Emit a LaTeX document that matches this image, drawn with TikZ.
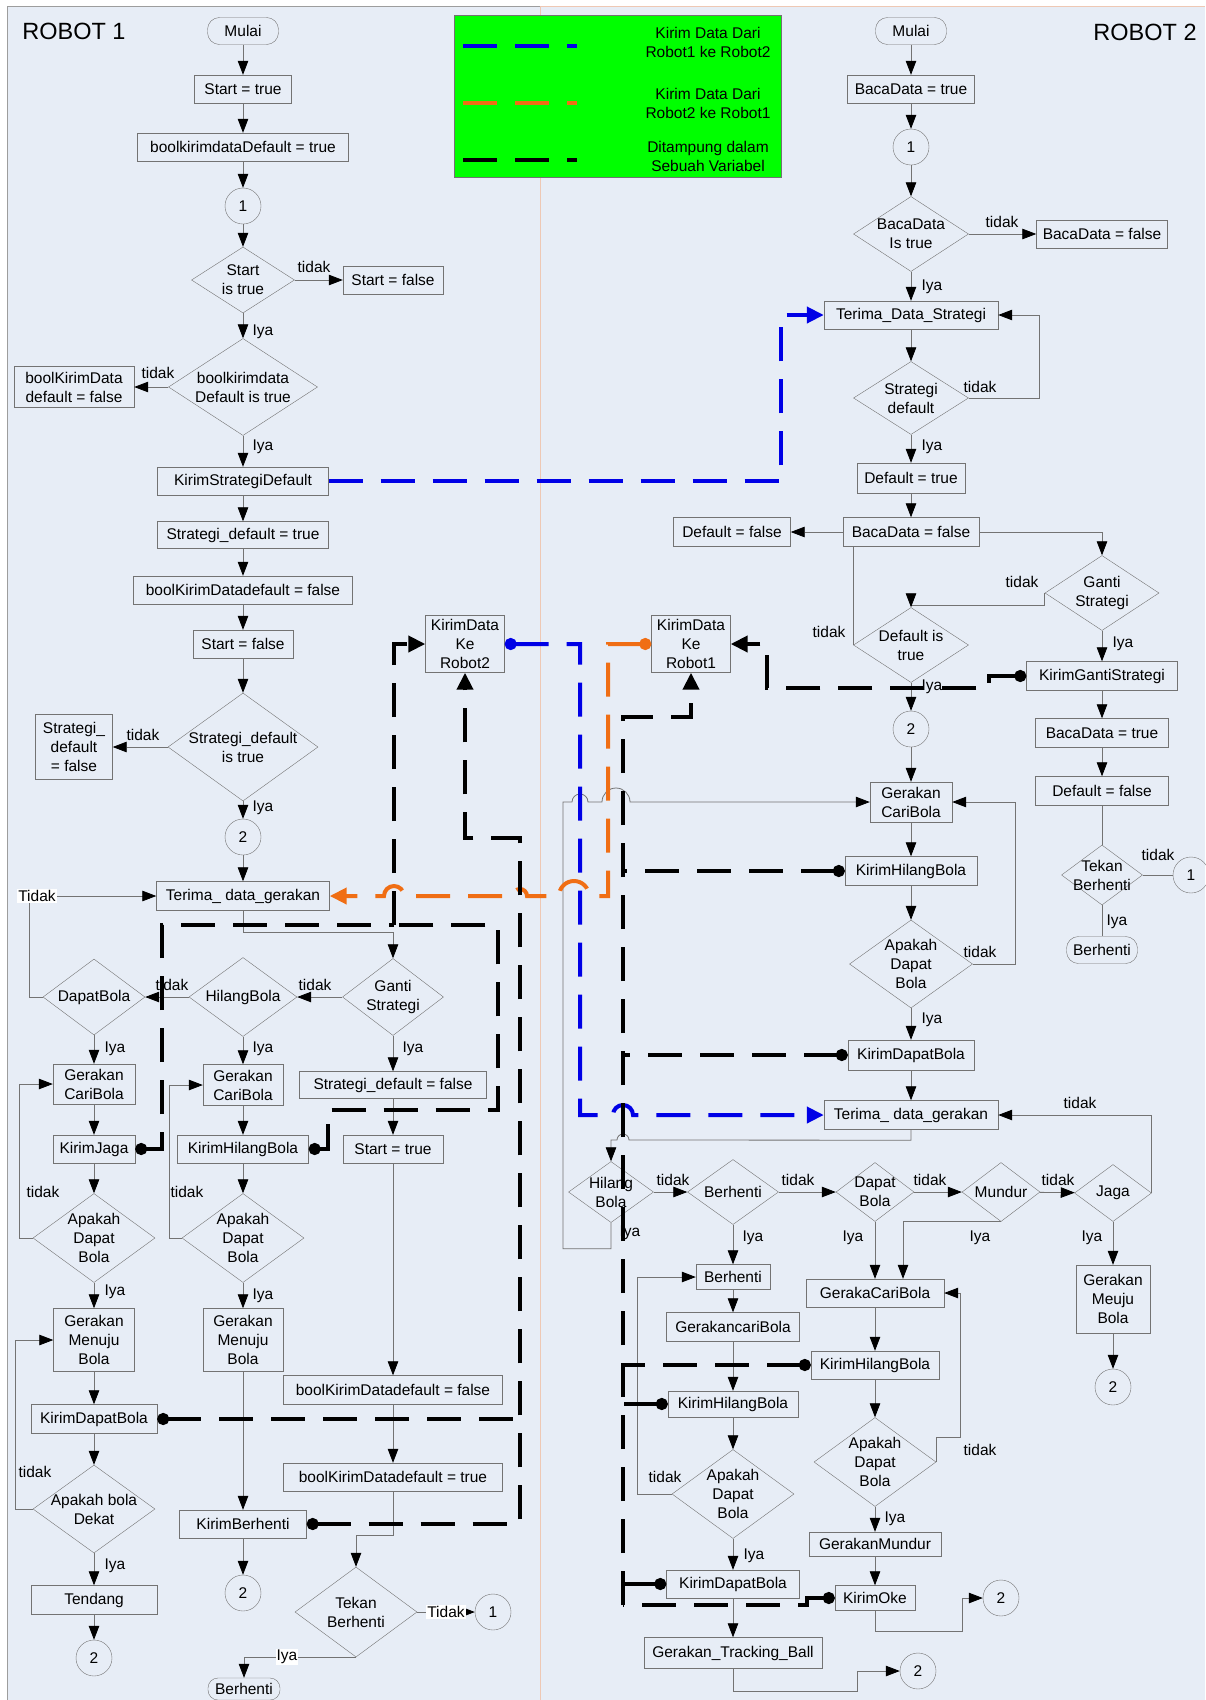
\documentclass[tikz,border=0pt]{standalone}
\usepackage{fontspec}
\setmainfont{Liberation Sans}
\usepackage{tikz}
\usetikzlibrary{arrows.meta,shapes.geometric}
\definecolor{bgblue}{RGB}{231,237,246}
\definecolor{lgray}{RGB}{115,115,115}
\definecolor{peach}{RGB}{238,200,180}
\definecolor{kblue}{RGB}{0,0,230}
\definecolor{korange}{RGB}{240,110,20}
\definecolor{kgreen}{RGB}{0,255,0}

\begin{document}
\begin{tikzpicture}[x=1pt,y=-1pt,
every node/.style={font=\fontsize{15.5}{19}\selectfont},
box/.style={draw=lgray,rectangle,inner sep=0pt,minimum height=28pt,align=center},
term/.style={draw=lgray,rectangle,rounded corners=12pt,inner sep=0pt,minimum width=71pt,minimum height=27pt},
dia/.style={draw=lgray,diamond,inner sep=0pt},
dtxt/.style={align=center},
con/.style={draw=lgray,circle,inner sep=0pt,minimum size=36pt},
cline/.style={lgray,line width=0.8pt},
flow/.style={cline,-{Triangle[length=14pt,width=10.5pt,color=black]}},
wlbl/.style={fill=white,inner sep=1pt},
kdash/.style={line width=4pt,dash pattern=on 34pt off 18pt},
src/.style={{Circle[length=12pt]}-},
dst/.style={-{Triangle[length=17pt,width=16pt]}},
srcdst/.style={{Circle[length=12pt]}-{Triangle[length=17pt,width=16pt]}}]
\useasboundingbox (0,0) rectangle (1205,1700);
\fill[white] (0,0) rectangle (1205,1700);
\fill[bgblue] (7,6) rectangle (1205,1700);
\draw[lgray!70,line width=0.8pt] (7,1700) -- (7,6) -- (540,6);
\draw[peach,line width=0.8pt] (540,1700) -- (540,6) -- (1205,6);

\node[font=\fontsize{23.5}{26}\selectfont] (titleA) at (74,31) {ROBOT 1};
\node[font=\fontsize{23.5}{26}\selectfont] (titleB) at (1145,32) {ROBOT 2};

\node[draw=lgray,fill=kgreen,minimum width=327pt,minimum height=162pt,inner sep=0pt] (legend) at (617.5,96) {};
\draw[kdash,kblue] (463,46) -- (577,46);
\draw[kdash,korange] (463,103) -- (577,103);
\draw[kdash,black] (463,160) -- (577,160);
\node[align=center] (legA) at (708,42) {Kirim Data Dari\\Robot1 ke Robot2};
\node[align=center] (legB) at (708,103) {Kirim Data Dari\\Robot2 ke Robot1};
\node[align=center] (legC) at (708,156) {Ditampung dalam\\Sebuah Variabel};

\node[term] (aMulai) at (243,31) {Mulai};
\node[box,minimum width=97pt] (aStart) at (243,89) {Start = true};
\node[box,minimum width=211pt] (aBoolT) at (243,147) {boolkirimdataDefault = true};
\node[con] (aC1) at (243,206) {1};
\node[dia,minimum width=103pt,minimum height=66pt,label={[dtxt]center:Start\\is true}] (aDStart) at (243,280) {};
\node[box,minimum width=100pt] (aStartF) at (393,280) {Start = false};
\node[dia,minimum width=149pt,minimum height=97pt,label={[dtxt]center:boolkirimdata\\Default is true}] (aDBool) at (243,387) {};
\node[box,minimum width=120pt,minimum height=41pt] (aBoolF) at (74,387) {boolKirimData\\default = false};
\node[box,minimum width=171pt] (aKirimSD) at (243,481) {KirimStrategiDefault};
\node[box,minimum width=171pt,minimum height=27pt] (aStratT) at (243,535) {Strategi\_default = true};
\node[box,minimum width=219pt] (aBoolDF) at (243,590) {boolKirimDatadefault = false};
\node[box,minimum width=100pt] (aStartF2) at (243,644) {Start = false};
\node[dia,minimum width=150pt,minimum height=108pt,label={[dtxt]center:Strategi\_default\\is true}] (aDStrat) at (243,747) {};
\node[box,minimum width=77pt,minimum height=65pt] (aStratF) at (74,747) {Strategi\_\\default\\= false};
\node[con] (aC2) at (243,837) {2};
\node[box,minimum width=173pt,minimum height=29pt] (aTerima) at (243,896) {Terima\_ data\_gerakan};
\node[dia,minimum width=101pt,minimum height=77pt,label={[dtxt]center:Ganti\\Strategi}] (aDGanti) at (393,997) {};
\node[dia,minimum width=108pt,minimum height=79pt,label={[dtxt]center:HilangBola}] (aDHilang) at (243,997) {};
\node[dia,minimum width=102pt,minimum height=76pt,label={[dtxt]center:DapatBola}] (aDDapat) at (94,997) {};
\node[box,minimum width=82pt,minimum height=40pt] (aCari1) at (94,1084) {Gerakan\\CariBola};
\node[box,minimum width=80pt,minimum height=41pt] (aCari2) at (243,1085) {Gerakan\\CariBola};
\node[box,minimum width=187pt,minimum height=27pt] (aStratF2) at (393,1085) {Strategi\_default = false};
\node[box,minimum width=82pt] (aJaga) at (94,1149) {KirimJaga};
\node[box,minimum width=131pt] (aHilang) at (243,1149) {KirimHilangBola};
\node[box,minimum width=100pt] (aStartT2) at (393,1149) {Start = true};
\node[dia,minimum width=122pt,minimum height=89pt,label={[dtxt]center:Apakah\\Dapat\\Bola}] (aDApakah1) at (94,1238) {};
\node[dia,minimum width=122pt,minimum height=89pt,label={[dtxt]center:Apakah\\Dapat\\Bola}] (aDApakah2) at (243,1238) {};
\node[box,minimum width=81pt,minimum height=63pt] (aMenuju1) at (94,1340) {Gerakan\\Menuju\\Bola};
\node[box,minimum width=80pt,minimum height=63pt] (aMenuju2) at (243,1340) {Gerakan\\Menuju\\Bola};
\node[box,minimum width=126pt,minimum height=29pt] (aDapat) at (94,1419) {KirimDapatBola};
\node[box,minimum width=219pt,minimum height=29pt] (aBoolDF2) at (393,1390) {boolKirimDatadefault = false};
\node[box,minimum width=219pt] (aBoolDT2) at (393,1477) {boolKirimDatadefault = true};
\node[dia,minimum width=122pt,minimum height=88pt,label={[dtxt]center:Apakah bola\\Dekat}] (aDDekat) at (94,1509) {};
\node[box,minimum width=127pt] (aBerhenti) at (243,1524) {KirimBerhenti};
\node[box,minimum width=126pt,minimum height=29pt] (aTendang) at (94,1600) {Tendang};
\node[con] (aC3) at (94,1658) {2};
\node[con] (aC4) at (243,1593) {2};
\node[dia,minimum width=122pt,minimum height=90pt,label={[dtxt]center:Tekan\\Berhenti}] (aDTekan) at (356,1612) {};
\node[term,minimum width=72pt,minimum height=22pt,rounded corners=10pt] (aStop) at (244,1689) {Berhenti};
\node[con] (aC5) at (493,1612) {1};
\node[box,minimum width=79pt,minimum height=57pt] (aKirimR2) at (465,644) {KirimData\\Ke\\Robot2};

\node[term] (bMulai) at (911,31) {Mulai};
\node[box,minimum width=127pt] (bBaca) at (911,89) {BacaData = true};
\node[con] (bC1) at (911,147) {1};
\node[dia,minimum width=115pt,minimum height=75pt,label={[dtxt]center:BacaData\\Is true}] (bDBaca) at (911,234) {};
\node[box,minimum width=131pt] (bBacaF) at (1102,234) {BacaData = false};
\node[box,minimum width=174pt] (bTerimaS) at (911,315) {Terima\_Data\_Strategi};
\node[dia,minimum width=115pt,minimum height=73pt,label={[dtxt]center:Strategi\\default}] (bDStrat) at (911,398) {};
\node[box,minimum width=108pt,minimum height=30pt] (bDefT) at (911,478) {Default = true};
\node[box,minimum width=136pt,minimum height=29pt] (bBacaF2) at (911,532) {BacaData = false};
\node[box,minimum width=117pt,minimum height=29pt] (bDefF) at (732,532) {Default = false};
\node[dia,minimum width=114pt,minimum height=75pt,label={[dtxt]center:Ganti\\Strategi}] (bDGanti) at (1102,593) {};
\node[dia,minimum width=115pt,minimum height=75pt,label={[dtxt]center:Default is\\true}] (bDDefault) at (911,645) {};
\node[box,minimum width=79pt,minimum height=57pt] (bKirimR1) at (691,644) {KirimData\\Ke\\Robot1};
\node[box,minimum width=151pt,minimum height=29pt] (bKirimGS) at (1102,676) {KirimGantiStrategi};
\node[con] (bC2) at (911,729) {2};
\node[box,minimum width=133pt,minimum height=29pt] (bBacaT) at (1102,733) {BacaData = true};
\node[box,minimum width=133pt,minimum height=29pt] (bDefF2) at (1102,791) {Default = false};
\node[box,minimum width=82pt,minimum height=40pt] (bCari) at (911,802) {Gerakan\\CariBola};
\node[dia,minimum width=81pt,minimum height=60pt,label={[dtxt]center:Tekan\\Berhenti}] (bDTekan) at (1102,875) {};
\node[con] (bC3) at (1191,875) {1};
\node[term] (bStop) at (1102,950) {Berhenti};
\node[box,minimum width=132pt,minimum height=29pt] (bHilang) at (911,871) {KirimHilangBola};
\node[dia,minimum width=123pt,minimum height=88pt,label={[dtxt]center:Apakah\\Dapat\\Bola}] (bDApakah) at (911,964) {};
\node[box,minimum width=126pt,minimum height=30pt] (bDapat) at (911,1055) {KirimDapatBola};
\node[box,minimum width=174pt,minimum height=29pt] (bTerimaG) at (911,1115) {Terima\_ data\_gerakan};
\node[dia,minimum width=85pt,minimum height=61pt,label={[dtxt]center:Hilang\\Bola}] (bDHilang) at (611,1192) {};
\node[dia,minimum width=91pt,minimum height=65pt,label={[dtxt]center:Berhenti}] (bDBerhenti) at (733,1192) {};
\node[dia,minimum width=78pt,minimum height=59pt,label={[dtxt]center:Dapat\\Bola}] (bDDapat) at (875,1192) {};
\node[dia,minimum width=78pt,minimum height=59pt,label={[dtxt]center:Mundur}] (bDMundur) at (1001,1192) {};
\node[dia,minimum width=77pt,minimum height=57pt,label={[dtxt]center:Jaga}] (bDJaga) at (1113,1193) {};
\node[box,minimum width=74pt,minimum height=25pt] (bBerhenti) at (733,1277) {Berhenti};
\node[box,minimum width=138pt] (bCari3) at (875,1293) {GerakaCariBola};
\node[box,minimum width=74pt,minimum height=68pt] (bMenuju) at (1113,1299) {Gerakan\\Meuju\\Bola};
\node[box,minimum width=133pt,minimum height=29pt] (bCari2) at (733,1327) {GerakancariBola};
\node[box,minimum width=128pt] (bHilang3) at (875,1365) {KirimHilangBola};
\node[con] (bC4) at (1113,1387) {2};
\node[box,minimum width=130pt,minimum height=26pt] (bHilang2) at (733,1404) {KirimHilangBola};
\node[dia,minimum width=122pt,minimum height=89pt,label={[dtxt]center:Apakah\\Dapat\\Bola}] (bDApakah3) at (875,1462) {};
\node[dia,minimum width=122pt,minimum height=89pt,label={[dtxt]center:Apakah\\Dapat\\Bola}] (bDApakah2) at (733,1494) {};
\node[box,minimum width=132pt,minimum height=24pt] (bMundur) at (875,1544) {GerakanMundur};
\node[box,minimum width=133pt] (bDapat2) at (733,1584) {KirimDapatBola};
\node[box,minimum width=80pt,minimum height=25pt] (bOke) at (875,1598) {KirimOke};
\node[con] (bC6) at (1001,1598) {2};
\node[box,minimum width=178pt,minimum height=31pt] (bTrack) at (733,1653) {Gerakan\_Tracking\_Ball};
\node[con] (bC5) at (918,1671) {2};

\node (nA1) at (314,267) {tidak};
\node (yA1) at (263,332) {Iya};
\node (nA2) at (158,373) {tidak};
\node (yA2) at (263,447) {Iya};
\node (nA3) at (143,735) {tidak};
\node (yA3) at (263,808) {Iya};
\node (nA4) at (315,985) {tidak};
\node (nA5) at (172,985) {tidak};
\node (yA4) at (115,1049) {Iya};
\node (yA5) at (263,1049) {Iya};
\node (yA6) at (413,1049) {Iya};
\node (nA6) at (43,1192) {tidak};
\node (nA7) at (187,1192) {tidak};
\node (yA7) at (115,1292) {Iya};
\node (yA8) at (263,1296) {Iya};
\node (nA8) at (35,1472) {tidak};
\node (yA9) at (115,1566) {Iya};

\node (nB1) at (1002,222) {tidak};
\node (yB1) at (932,287) {Iya};
\node (nB2) at (980,387) {tidak};
\node (yB2) at (932,447) {Iya};
\node (nB3) at (1022,582) {tidak};
\node (nB4) at (829,632) {tidak};
\node (yB3) at (1123,644) {Iya};
\node (yB4) at (932,687) {Iya};
\node (nB5) at (1158,855) {tidak};
\node (yB5) at (1117,922) {Iya};
\node (nB6) at (980,952) {tidak};
\node (yB6) at (932,1020) {Iya};
\node (nB7) at (1080,1103) {tidak};
\node (nB8) at (673,1180) {tidak};
\node (nB9) at (798,1180) {tidak};
\node (nB10) at (930,1180) {tidak};
\node (nB11) at (1058,1180) {tidak};
\node (yB7) at (630,1233) {Iya};
\node (yB8) at (753,1238) {Iya};
\node (yB9) at (853,1238) {Iya};
\node (yB10) at (980,1238) {Iya};
\node (yB11) at (1092,1238) {Iya};
\node (nB12) at (665,1477) {tidak};
\node (yB12) at (754,1556) {Iya};
\node (nB13) at (980,1450) {tidak};
\node (yB13) at (895,1519) {Iya};

\draw[flow] (aMulai) -- (aStart);
\draw[flow] (aStart) -- (aBoolT);
\draw[flow] (aBoolT) -- (aC1);
\draw[flow] (aC1) -- (aDStart);
\draw[flow] (aDStart) -- (aStartF);
\draw[flow] (aDStart) -- (aDBool);
\draw[flow] (aDBool) -- (aBoolF);
\draw[flow] (aDBool) -- (aKirimSD);
\draw[flow] (aKirimSD) -- (aStratT);
\draw[flow] (aStratT) -- (aBoolDF);
\draw[flow] (aBoolDF) -- (aStartF2);
\draw[flow] (aStartF2) -- (aDStrat);
\draw[flow] (aDStrat) -- (aStratF);
\draw[flow] (aDStrat) -- (aC2);
\draw[flow] (aC2) -- (aTerima);
\draw[flow] (aTerima.south) -- ++(0,22) -| (aDGanti.north);
\draw[flow] (aDGanti) -- (aDHilang);
\draw[flow] (aDHilang) -- (aDDapat);
\draw[flow] (aDDapat.west) -- (29,997) |- (aTerima.west);
\node[wlbl] (tA1) at (37,896) {Tidak};
\draw[flow] (aDDapat) -- (aCari1);
\draw[flow] (aDHilang) -- (aCari2);
\draw[flow] (aDGanti) -- (aStratF2);
\draw[flow] (aCari1) -- (aJaga);
\draw[flow] (aCari2) -- (aHilang);
\draw[flow] (aStratF2) -- (aStartT2);
\draw[flow] (aJaga) -- (aDApakah1);
\draw[flow] (aHilang) -- (aDApakah2);
\draw[flow] (aDApakah1.west) -- (19,1238) |- (aCari1.west);
\draw[flow] (aDApakah2.west) -- (169,1238) |- (aCari2.west);
\draw[flow] (aDApakah1) -- (aMenuju1);
\draw[flow] (aDApakah2) -- (aMenuju2);
\draw[flow] (aMenuju1) -- (aDapat);
\draw[flow] (aMenuju2) -- (aBerhenti);
\draw[flow] (aStartT2) -- (aBoolDF2);
\draw[flow] (aBoolDF2) -- (aBoolDT2);
\draw[flow] (aDapat) -- (aDDekat);
\draw[flow] (aDDekat.west) -- (15,1509) |- (aMenuju1.west);
\draw[flow] (aDDekat) -- (aTendang);
\draw[flow] (aTendang) -- (aC3);
\draw[flow] (aBerhenti) -- (aC4);
\draw[flow] (aBoolDT2.south) -- ++(0,44) -| (aDTekan.north);
\draw[flow] (aDTekan.south) -| (aStop.north);
\node[wlbl] (tA2) at (287,1657) {Iya};
\draw[flow] (aDTekan) -- (aC5);
\node[wlbl] (tA3) at (446,1612) {Tidak};

\draw[flow] (bMulai) -- (bBaca);
\draw[flow] (bBaca) -- (bC1);
\draw[flow] (bC1) -- (bDBaca);
\draw[flow] (bDBaca) -- (bBacaF);
\draw[flow] (bDBaca) -- (bTerimaS);
\draw[flow] (bTerimaS) -- (bDStrat);
\draw[flow] (bDStrat.east) -- (1039,398) |- (bTerimaS.east);
\draw[flow] (bDStrat) -- (bDefT);
\draw[flow] (bDefT) -- (bBacaF2);
\draw[flow] (bBacaF2) -- (bDefF);
\draw[flow] (bBacaF2.east) -| (bDGanti.north);
\draw[flow] (bDGanti.west) -- ++(0,12) -| (bDDefault.north);
\draw[cline] (bDDefault.west) -- (bDDefault.west |- bBacaF2.south);
\draw[flow] (bDDefault) -- (bC2);
\draw[flow] (bC2) -- (bCari);
\draw[flow] (bDGanti) -- (bKirimGS);
\draw[flow] (bKirimGS) -- (bBacaT);
\draw[flow] (bBacaT) -- (bDefF2);
\draw[cline] (bDefF2) -- (bDTekan);
\draw[cline] (bDTekan) -- (bC3);
\draw[cline] (bDTekan) -- (bStop);
\draw[flow] (bCari) -- (bHilang);
\draw[flow] (bHilang) -- (bDApakah);
\draw[flow] (bDApakah.east) -- (1015,964) |- (bCari.east);
\draw[flow] (bDApakah) -- (bDapat);
\draw[flow] (bDapat) -- (bTerimaG);
\draw[flow] (bTerimaG.south) -- ++(0,10.5) -- (629,1140) arc (0:-180:6) -- (611,1140) -- (bDHilang.north);
\draw[flow] (bDHilang) -- (bDBerhenti);
\draw[flow] (bDBerhenti) -- (bDDapat);
\draw[flow] (bDDapat) -- (bDMundur);
\draw[flow] (bDMundur) -- (bDJaga);
\draw[flow] (bDJaga.east) |- (bTerimaG.east);
\draw[flow] (bDHilang.south) -- ++(0,26) -| (563,802) -- (572,802) arc (180:360:8) -- (602,802) arc (180:360:14) -- (bCari.west);
\draw[flow] (bDBerhenti) -- (bBerhenti);
\draw[flow] (bBerhenti) -- (bCari2);
\draw[flow] (bCari2) -- (bHilang2);
\draw[flow] (bHilang2) -- (bDApakah2);
\draw[flow] (bDApakah2.west) -- (637,1494) |- (bBerhenti.west);
\draw[flow] (bDApakah2) -- (bDapat2);
\draw[flow] (bDapat2) -- (bTrack);
\draw[flow] (bTrack.south) -- ++(0,22.5) -| (857,1671) -- (bC5);
\draw[flow] (bDDapat) -- (bCari3);
\draw[flow] (bDMundur.south) -| ([xshift=28pt]bCari3.north);
\draw[flow] (bDJaga) -- (bMenuju);
\draw[flow] (bMenuju) -- (bC4);
\draw[flow] (bCari3) -- (bHilang3);
\draw[flow] (bHilang3) -- (bDApakah3);
\draw[flow] (bDApakah3.east) -- ++(0,-25) -- (960,1437) |- (bCari3.east);
\draw[flow] (bDApakah3) -- (bMundur);
\draw[flow] (bMundur) -- (bOke);
\draw[flow] (bOke.south) -- ++(0,21) -| (962,1598) -- (bC6);

\coordinate (jA) at (394,925);
\coordinate (jB) at (520,838);
\coordinate (jC) at (623,717);
\coordinate (jD) at (623,1605);

\draw[kdash,kblue,dst] (aKirimSD.east) -| (781,315) -- (bTerimaS.west);
\draw[kdash,kblue,srcdst] (aKirimR2.east) -| (580,1115) -- (613,1115) arc (180:360:10) -- (bTerimaG.west);
\draw[kdash,korange,srcdst] (bKirimR1.west) -| (608,896) -- (589,896) arc (0:-180:15) -- (527,896) arc (0:-180:7) -- (404,896) arc (0:-180:10) -- (aTerima.east);

\draw[kdash,src] (aJaga.east) -- ++(27,0) |- (jA);
\draw[kdash,src] (aHilang.east) -- ++(19,0) |- (498,1110) |- (jA);
\draw[kdash,dst] (jA) |- (aKirimR2.west);
\draw[kdash,src] (aDapat.east) -- (520,1419);
\draw[kdash,srcdst] (aBerhenti.east) -| (jB) -| (aKirimR2.south);

\draw[kdash,srcdst] (bKirimGS.west) -- ++(-37,0) |- (767,688) |- (bKirimR1.east);
\draw[kdash,src] (bHilang.west) -- (623,871);
\draw[kdash,src] (bDapat.west) -- (623,1055);
\draw[kdash,src] (bHilang3.west) -- (623,1365);
\draw[kdash,src] (bHilang2.west) -- (623,1404);
\draw[kdash,src] (bDapat2.west) -- (623,1584);
\draw[kdash,src] (bOke.west) -- ++(-28,0) |- (jD);
\draw[kdash,dst] (jD) -- (jC) -| (bKirimR1.south);
\end{tikzpicture}
\end{document}
